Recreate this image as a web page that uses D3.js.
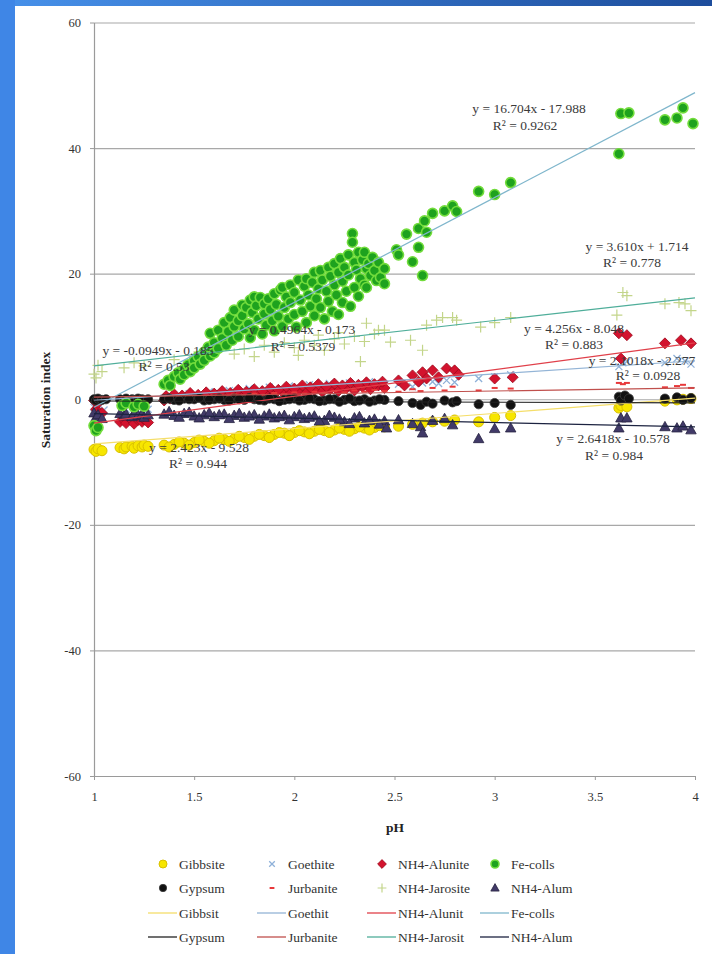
<!DOCTYPE html>
<html><head><meta charset="utf-8">
<script src="https://cdn.jsdelivr.net/npm/d3@7"></script>
<style>
html,body{margin:0;padding:0;background:#fff;}
svg{display:block;}
</style></head><body>
<svg id="chart" width="712" height="954"></svg>
<script>
// ---------------- DATA (pH, saturation index) ----------------
const gibbsite = [[1.0,-8.0],[1.01,-8.3],[1.02,-7.9],[1.04,-8.2],[1.13,-7.7],[1.15,-7.9],[1.16,-7.6],[1.19,-7.5],[1.2,-7.8],[1.22,-7.4],[1.24,-7.6],[1.25,-7.3],[1.27,-7.5],
 [1.35,-7.3],[1.4,-7.2],[1.45,-7.0],[1.5,-6.9],[1.55,-6.7],[1.6,-6.6],[1.65,-6.4],[1.7,-6.3],[1.75,-6.1],[1.8,-5.9],[1.85,-5.8],[1.9,-5.6],[1.95,-5.4],[2.0,-5.3],[2.05,-5.2],[2.1,-5.1],[2.15,-5.0],[2.2,-4.9],[2.25,-4.8],[2.3,-4.7],[2.35,-4.6],[2.4,-4.5],[2.45,-4.4],
 [1.375,-7.6],[1.425,-6.8],[1.475,-7.3],[1.525,-6.5],[1.575,-7.0],[1.625,-6.2],[1.675,-6.7],[1.725,-5.9],[1.775,-6.4],[1.825,-5.6],[1.875,-6.1],[1.925,-5.3],[1.975,-5.8],[2.025,-5.0],[2.075,-5.5],[2.125,-4.8],[2.175,-5.3],[2.225,-4.6],[2.275,-5.1],[2.325,-4.4],[2.375,-4.9],[2.425,-4.2],
 [2.52,-4.3],[2.59,-4.0],[2.64,-3.8],[2.69,-3.6],[2.75,-3.5],[2.8,-3.3],[2.92,-3.6],[3.0,-2.9],[3.08,-2.6],[3.62,-1.4],[3.63,-1.0],[3.66,-1.2],[3.85,-0.3],[3.91,-0.1],[3.94,0.0],[3.98,0.1]];
const goethite = [[1.0,-1.3],[1.01,-1.9],[1.02,-1.5],[1.05,-1.7],[1.14,-1.2],[1.16,-1.6],[1.2,-1.4],[1.22,-1.8],[1.25,-1.3],[1.27,-1.6],
 [1.35,0.2],[1.4,0.4],[1.45,0.5],[1.5,0.7],[1.55,0.6],[1.6,0.9],[1.65,0.8],[1.7,1.1],[1.75,1.0],[1.8,1.3],[1.85,1.2],[1.9,1.5],[1.95,1.4],[2.0,1.7],[2.05,1.5],[2.1,1.8],[2.15,1.6],[2.2,1.9],[2.25,1.8],[2.3,2.1],[2.35,2.4],[2.4,2.0],[2.45,2.2],
 [1.375,0.6],[1.475,0.9],[1.575,1.2],[1.675,1.4],[1.775,1.7],[1.875,1.9],[1.975,2.1],[2.075,2.3],[2.175,2.5],[2.275,2.6],[2.375,2.8],
 [2.52,2.4],[2.59,2.0],[2.64,2.6],[2.69,2.8],[2.72,2.5],[2.76,3.0],[2.8,2.7],[2.92,3.3],[3.0,3.6],[3.08,3.9],[3.62,5.2],[3.64,5.8],[3.66,6.0],[3.85,5.8],[3.91,6.5],[3.95,6.1],[3.98,5.6]];
const nh4Alunite = [[1.0,-0.2],[1.01,-1.6],[1.02,-0.6],[1.04,-2.2],[1.13,-3.6],[1.15,-3.3],[1.16,-3.8],[1.19,-3.4],[1.2,-3.9],[1.22,-3.3],[1.24,-3.6],[1.25,-3.2],[1.27,-3.7],
 [1.35,-0.2],[1.38,0.1],[1.42,0.0],[1.46,0.3],[1.5,0.2],[1.54,0.4],[1.58,0.3],[1.62,0.6],[1.66,0.4],[1.7,0.7],[1.74,0.5],[1.78,0.9],[1.82,0.7],[1.86,1.0],[1.9,0.8],[1.94,1.2],[1.98,0.9],[2.02,1.3],[2.06,1.0],[2.1,1.5],[2.14,1.2],[2.18,1.6],[2.22,1.3],[2.26,1.8],[2.3,1.4],[2.34,2.0],[2.38,1.6],[2.42,2.2],[2.45,1.8],
 [1.36,0.5],[1.4,0.8],[1.44,0.6],[1.48,1.0],[1.52,0.7],[1.56,1.1],[1.6,0.9],[1.64,1.3],[1.68,1.0],[1.72,1.5],[1.76,1.2],[1.8,1.6],[1.84,1.3],[1.88,1.8],[1.92,1.5],[1.96,2.0],[2.0,1.7],[2.04,2.2],[2.08,1.9],[2.12,2.4],[2.16,2.0],[2.2,2.5],[2.24,2.2],[2.28,2.6],[2.32,2.3],[2.36,2.7],[2.4,2.4],[2.44,2.8],
 [2.52,3.0],[2.55,2.2],[2.59,3.8],[2.62,2.8],[2.64,4.3],[2.66,3.3],[2.69,4.6],[2.72,3.5],[2.76,4.9],[2.8,4.6],[2.82,3.9],[3.0,3.3],[3.09,3.5],[3.62,10.5],[3.63,6.5],[3.66,10.2],[3.85,8.9],[3.93,9.4],[3.98,8.9]];
const feColls = [[1.0,-4.2],[1.01,-5.0],[1.02,-4.5],[1.14,-1.0],[1.16,-0.6],[1.2,-1.2],[1.22,-0.8],[1.25,-1.1],
 [1.35,2.4],[1.37,3.0],[1.38,2.2],[1.4,3.6],[1.42,4.2],[1.43,3.2],[1.45,4.8],[1.45,3.9],[1.47,5.5],[1.48,4.4],[1.5,6.1],[1.5,5.0],[1.52,6.8],[1.53,5.6],[1.55,7.5],[1.55,6.2],[1.57,8.3],[1.58,6.9],[1.58,10.5],[1.6,9.0],[1.6,7.4],[1.62,11.0],[1.62,8.1],
 [1.64,9.7],[1.65,12.2],[1.66,8.6],[1.67,10.8],[1.68,13.0],[1.69,9.4],[1.7,11.6],[1.7,14.2],[1.72,12.5],[1.72,10.0],[1.74,15.0],[1.74,13.3],[1.75,11.2],[1.76,14.6],[1.77,12.0],[1.78,15.8],[1.78,9.8],[1.79,13.8],[1.8,16.3],[1.8,11.0],[1.81,14.9],[1.82,12.8],[1.83,16.2],[1.84,10.4],[1.85,15.2],[1.85,13.6],[1.86,11.8],[1.87,16.0],[1.88,14.3],[1.89,12.5],[1.9,16.8],[1.9,10.9],[1.91,15.1],[1.92,13.2],[1.93,17.4],[1.94,17.8],[1.94,11.6],[1.95,14.6],[1.96,16.3],[1.97,12.8],[1.98,18.2],[1.98,15.4],[2.0,13.5],[2.0,17.0],[2.01,11.5],[2.02,19.0],[2.03,15.8],[2.04,14.0],[2.05,18.0],[2.06,19.2],[2.06,12.2],[2.07,16.6],[2.08,14.8],[2.09,18.6],[2.1,20.2],[2.1,13.3],[2.11,16.0],[2.12,17.6],[2.13,20.5],[2.13,14.6],[2.14,19.0],[2.15,12.8],[2.16,17.2],[2.17,21.0],[2.17,15.6],[2.18,19.6],[2.19,14.0],[2.2,18.2],[2.2,21.6],[2.21,16.6],[2.22,20.2],[2.22,13.5],[2.23,22.4],[2.24,18.8],[2.24,15.4],[2.25,21.0],[2.26,17.2],[2.27,23.0],[2.27,19.8],[2.28,14.8],[2.29,26.4],[2.29,25.0],[2.3,21.8],[2.3,17.8],[2.31,20.6],[2.32,23.4],[2.32,16.4],[2.33,19.2],[2.34,22.2],[2.35,23.4],[2.35,18.2],[2.36,17.8],[2.36,20.8],[2.37,21.6],[2.38,19.7],[2.39,22.6],[2.4,20.5],[2.41,18.9],[2.42,21.8],[2.43,19.4],[2.45,20.8],[2.45,18.4],
 [2.51,23.8],[2.52,23.0],[2.56,26.3],[2.59,21.9],[2.62,27.2],[2.62,24.2],[2.64,19.7],[2.65,28.4],[2.66,26.6],[2.69,29.6],[2.75,30.0],[2.79,30.8],[2.81,29.9],[2.92,33.1],[3.0,32.6],[3.08,34.5],
 [3.62,39.1],[3.63,45.5],[3.67,45.6],[3.85,44.5],[3.91,44.8],[3.94,46.4],[3.99,43.9]];
const gypsum = [[1.0,0.0],[1.01,-0.2],[1.02,0.1],[1.04,-0.1],[1.06,0.0],[1.13,0.0],[1.15,-0.2],[1.16,0.1],[1.19,0.0],[1.2,-0.1],[1.22,0.1],[1.24,0.0],[1.25,-0.2],[1.27,0.0],
 [1.35,0.0],[1.4,-0.1],[1.45,0.1],[1.5,0.0],[1.55,-0.2],[1.6,0.0],[1.65,-0.1],[1.7,0.1],[1.75,-0.1],[1.8,0.0],[1.85,-0.2],[1.9,0.0],[1.95,-0.1],[2.0,0.1],[2.05,-0.1],[2.1,0.0],[2.15,-0.2],[2.2,0.0],[2.25,-0.1],[2.3,-0.3],[2.35,0.0],[2.4,-0.2],[2.45,-0.1],
 [1.375,0.1],[1.425,-0.2],[1.475,0.0],[1.525,0.2],[1.575,-0.1],[1.625,0.1],[1.675,-0.2],[1.725,0.0],[1.775,0.2],[1.825,-0.1],[1.875,0.1],[1.925,-0.3],[1.975,0.0],[2.025,-0.2],[2.075,0.1],[2.125,-0.3],[2.175,0.0],[2.225,-0.4],[2.275,0.1],[2.325,-0.2],[2.375,-0.4],[2.425,0.0],
 [2.52,-0.3],[2.59,-0.6],[2.63,-0.9],[2.66,-0.4],[2.69,-0.7],[2.75,-0.2],[2.79,-0.5],[2.81,-0.3],[2.92,-0.8],[3.0,-0.6],[3.08,-0.9],[3.62,0.4],[3.63,-0.2],[3.65,0.6],[3.67,0.1],[3.85,0.1],[3.91,0.3],[3.94,-0.1],[3.98,0.2]];
const jurbanite = [[1.0,-0.1],[1.02,0.2],[1.05,-0.3],[1.15,0.1],[1.2,0.0],[1.25,0.2],
 [1.35,0.2],[1.4,0.4],[1.45,0.3],[1.5,0.5],[1.55,0.4],[1.6,0.6],[1.65,0.5],[1.7,0.8],[1.75,0.6],[1.8,0.9],[1.85,0.7],[1.9,1.0],[1.95,0.8],[2.0,1.1],[2.05,0.9],[2.1,1.2],[2.15,1.0],[2.2,1.3],[2.25,1.1],[2.3,1.4],[2.35,1.2],[2.4,1.5],[2.45,1.3],
 [2.52,1.2],[2.59,1.6],[2.63,1.3],[2.69,1.8],[2.75,1.4],[2.79,2.0],[2.92,1.4],[3.0,1.8],[3.08,1.7],[3.62,2.6],[3.64,2.4],[3.66,2.6],[3.85,1.9],[3.91,2.1],[3.94,2.3],[3.98,1.8]];
const nh4Jarosite = [[1.0,4.0],[1.01,3.4],[1.02,5.4],[1.04,4.4],[1.15,5.0],[1.2,5.8],[1.25,5.3],[1.4,6.3],[1.5,6.8],[1.55,6.0],[1.7,7.2],[1.75,8.0],[1.8,6.8],[1.85,8.6],[1.9,7.5],[1.95,9.0],[2.0,8.2],[2.02,7.0],[2.05,9.4],[2.1,8.6],[2.12,10.2],[2.15,7.8],[2.2,9.6],[2.22,10.6],[2.25,8.8],[2.3,10.0],[2.33,6.0],[2.35,9.2],[2.36,12.1],[2.4,10.4],[2.42,11.0],[2.45,11.0],[2.48,9.1],[2.58,9.4],[2.64,7.8],[2.66,11.8],[2.71,12.6],[2.74,13.0],[2.79,13.0],[2.81,12.6],[2.93,11.5],[3.0,12.2],[3.08,13.0],[3.61,13.4],[3.64,17.0],[3.66,16.5],[3.85,15.2],[3.92,15.4],[3.95,15.2],[3.98,14.1]];
const nh4Alum = [[1.0,-2.2],[1.01,-2.9],[1.02,-2.5],[1.04,-3.1],[1.13,-2.3],[1.15,-2.7],[1.16,-2.4],[1.19,-2.8],[1.2,-2.3],[1.22,-2.6],[1.24,-2.4],[1.25,-2.9],[1.27,-2.5],
 [1.35,-2.4],[1.4,-2.6],[1.45,-2.3],[1.5,-2.7],[1.55,-2.5],[1.6,-2.8],[1.65,-2.4],[1.7,-2.6],[1.75,-2.9],[1.8,-2.5],[1.85,-2.7],[1.9,-3.0],[1.95,-2.6],[2.0,-2.8],[2.05,-3.1],[2.1,-2.7],[2.15,-3.4],[2.2,-2.9],[2.25,-3.6],[2.3,-3.0],[2.35,-3.8],[2.4,-3.2],[2.45,-3.5],
 [1.375,-2.0],[1.425,-2.9],[1.475,-2.1],[1.525,-3.0],[1.575,-2.2],[1.625,-2.5],[1.675,-3.1],[1.725,-2.3],[1.775,-2.7],[1.825,-3.2],[1.875,-2.4],[1.925,-2.8],[1.975,-3.3],[2.025,-2.5],[2.075,-2.9],[2.125,-3.5],[2.175,-2.6],[2.225,-3.2],[2.275,-3.9],[2.325,-2.8],[2.375,-3.4],[2.425,-4.0],
 [2.46,-4.6],[2.52,-3.3],[2.59,-3.9],[2.63,-4.4],[2.64,-5.4],[2.69,-3.4],[2.75,-3.1],[2.79,-4.1],[2.92,-6.3],[3.0,-4.7],[3.08,-4.6],[3.62,-4.6],[3.63,-3.0],[3.66,-3.0],[3.85,-4.4],[3.91,-4.6],[3.94,-4.3],[3.98,-4.9]];

const seriesNames = ["Gibbsite","Goethite","NH4-Alunite","Fe-colls","Gypsum","Jurbanite","NH4-Jarosite","NH4-Alum"];
const trendNames  = ["Gibbsit","Goethit","NH4-Alunit","Fe-colls","Gypsum","Jurbanite","NH4-Jarosit","NH4-Alum"];
const trendSlopes     = [2.423, 2.1018, 4.256, 16.704, -0.0949, 0.4964, 3.610, -0.70];
const trendIntercepts = [-9.528, -2.277, -8.048, -17.988, -0.185, -0.173, 1.714, -1.60];
const equationTexts = [
  ["y = 16.704x - 17.988","R² = 0.9262"],
  ["y = 3.610x + 1.714","R² = 0.778"],
  ["y = 4.256x - 8.048","R² = 0.883"],
  ["y = 2.1018x - 2.277","R² = 0.0928"],
  ["y = 0.4964x - 0.173","R² = 0.5379"],
  ["y = -0.0949x - 0.185","R² = 0.53"],
  ["y = 2.423x - 9.528","R² = 0.944"],
  ["y = 2.6418x - 10.578","R² = 0.984"]
];
const xTicks = [1,1.5,2,2.5,3,3.5,4];
const yTicks = [-60,-40,-20,0,20,40,60];
const xTitle = "pH";
const yTitle = "Saturation index";

// ---------------- LAYOUT / STYLE ----------------
const W = 712, H = 954;
const FONT = "'Liberation Serif','Times New Roman',serif";
const seriesData = [gibbsite, goethite, nh4Alunite, feColls, gypsum, jurbanite, nh4Jarosite, nh4Alum];
const markerStyle = [
  {type:"circle", r:5, fill:"#f7e600", stroke:"#d8c000", sw:1},
  {type:"x", r:3.5, fill:"none", stroke:"#8fb1d9", sw:1.3},
  {type:"diamond", r:5.5, fill:"#d3132e", stroke:"#9a0a1c", sw:0.8},
  {type:"circle", r:5, fill:"#1ea21e", stroke:"#72dc3c", sw:1.6},
  {type:"circle", r:4.6, fill:"#111", stroke:"#3a3a3a", sw:0.8},
  {type:"dash", r:3, fill:"none", stroke:"#e8383a", sw:2},
  {type:"plus", r:5.5, fill:"none", stroke:"#c3d58a", sw:1.2},
  {type:"triangle", r:5.5, fill:"#413a68", stroke:"#262240", sw:0.8}
];
const lineColors = ["#f5de6a","#93b4d6","#e0404a","#7fb6cc","#222222","#c0504d","#4fae9a","#1c2340"];
const drawOrder = [6,1,2,5,0,7,4,3];
const eqPos = [[529,108,525,125],[637,246,632,262],[574,328,574,344],[642,360,648,375],[302,329,303,346],[158,350,164,366],[199,447,198,463],[613,438,614,455]];
const LABEL_FS = 13.5, TICK_FS = 12.5, TITLE_FS = 13.5;

const svg = d3.select("#chart");
const defs = svg.append("defs");
const g1 = defs.append("linearGradient").attr("id","bg").attr("x1",0).attr("x2",1).attr("y1",0).attr("y2",0);
g1.append("stop").attr("offset","0%").attr("stop-color","#4791ea");
g1.append("stop").attr("offset","100%").attr("stop-color","#1d4d9c");
svg.append("rect").attr("width",W).attr("height",H).attr("fill","url(#bg)");
svg.append("rect").attr("x",0).attr("y",0).attr("width",15).attr("height",H).attr("fill","#3f86e6");
svg.append("rect").attr("x",15).attr("y",6).attr("width",W-15).attr("height",H-6).attr("fill","#ffffff");

const x = d3.scaleLinear().domain([1,4]).range([94,695]);
const y = d3.scaleLinear().domain([-60,60]).range([776,22.5]);

// gridlines
svg.append("g").attr("transform","translate(94,0)")
  .call(d3.axisLeft(y).tickValues(yTicks).tickSize(-601).tickFormat(""))
  .call(g=>{g.select(".domain").remove(); g.selectAll("line").attr("stroke","#a8a8a8").attr("stroke-width",1.2);});

// y axis
svg.append("g").attr("transform","translate(94,0)")
  .call(d3.axisLeft(y).tickValues(yTicks).tickSize(4).tickSizeOuter(0).tickPadding(9).tickFormat(d=>String(d)))
  .call(g=>{g.select(".domain").attr("stroke","#9a9a9a").attr("stroke-width",1.2);
            g.selectAll("line").attr("stroke","#9a9a9a");
            g.selectAll("text").attr("font-family",FONT).attr("font-size",TICK_FS).attr("fill","#333");});
// x axis
svg.append("g").attr("transform","translate(0,776)")
  .call(d3.axisBottom(x).tickValues(xTicks).tickSize(4).tickSizeOuter(0).tickPadding(12).tickFormat(d=>String(d)))
  .call(g=>{g.select(".domain").attr("stroke","#9a9a9a").attr("stroke-width",1.2);
            g.selectAll("line").attr("stroke","#9a9a9a");
            g.selectAll("text").attr("font-family",FONT).attr("font-size",TICK_FS).attr("fill","#333");});

svg.append("text").attr("x",395).attr("y",832).attr("text-anchor","middle")
  .attr("font-family",FONT).attr("font-size",TITLE_FS).attr("font-weight","bold").attr("fill","#222").text(xTitle);
svg.append("text").attr("transform","translate(50,400) rotate(-90)").attr("text-anchor","middle")
  .attr("font-family",FONT).attr("font-size",TITLE_FS).attr("font-weight","bold").attr("fill","#222").text(yTitle);

function markerPath(t, s){
  switch(t){
    case "diamond": return `M0,${-s}L${s},0L0,${s}L${-s},0Z`;
    case "triangle": return `M0,${-s}L${s*0.95},${s*0.7}L${-s*0.95},${s*0.7}Z`;
    case "plus": return `M${-s},0H${s}M0,${-s}V${s}`;
    case "x": return `M${-s},${-s}L${s},${s}M${-s},${s}L${s},${-s}`;
    case "dash": return `M${-s},0H${s}`;
  }
}
function drawMarker(sel, st, scale){
  const s = st.r*(scale||1);
  if(st.type==="circle"){
    sel.append("circle").attr("r",s).attr("fill",st.fill).attr("stroke",st.stroke).attr("stroke-width",st.sw);
  } else {
    sel.append("path").attr("d",markerPath(st.type,s)).attr("fill",st.fill).attr("stroke",st.stroke).attr("stroke-width",st.sw);
  }
}

const plot = svg.append("g");
drawOrder.forEach(i=>{
  const st = markerStyle[i];
  const g = plot.append("g").attr("class","series-"+i);
  g.selectAll("g.pt").data(seriesData[i]).enter().append("g").attr("class","pt")
    .attr("transform",d=>`translate(${x(d[0])},${y(d[1])})`)
    .each(function(){ drawMarker(d3.select(this), st); });
});

// trendlines
const lineGen = d3.line().x(d=>x(d[0])).y(d=>y(d[1]));
trendSlopes.forEach((m,i)=>{
  const b = trendIntercepts[i];
  const pts = [1,4].map(v=>[v, m*v+b]);
  svg.append("path").attr("d",lineGen(pts)).attr("fill","none").attr("stroke",lineColors[i]).attr("stroke-width",1.2);
});

// equation labels
equationTexts.forEach((t,i)=>{
  const p = eqPos[i];
  svg.append("text").attr("x",p[0]).attr("y",p[1]).attr("dy","0.35em").attr("text-anchor","middle")
    .attr("font-family",FONT).attr("font-size",LABEL_FS).attr("fill","#3a3a3a").text(t[0]);
  svg.append("text").attr("x",p[2]).attr("y",p[3]).attr("dy","0.35em").attr("text-anchor","middle")
    .attr("font-family",FONT).attr("font-size",LABEL_FS).attr("fill","#3a3a3a").text(t[1]);
});

// legend
const colX = [163,272,382,495];
const rowY = [864,888,913,937];
const legMarkers = [[0,1,2,3],[4,5,6,7]];
const leg = svg.append("g");
legMarkers.forEach((row,r)=>{
  row.forEach((si,c)=>{
    const g = leg.append("g").attr("transform",`translate(${colX[c]},${rowY[r]})`);
    drawMarker(g, markerStyle[si], 0.8);
    leg.append("text").attr("x",colX[c]+16).attr("y",rowY[r]).attr("dy","0.35em")
      .attr("font-family",FONT).attr("font-size",LABEL_FS).attr("fill","#333").text(seriesNames[si]);
    const ry = rowY[r+2];
    leg.append("line").attr("x1",colX[c]-15).attr("x2",colX[c]+14).attr("y1",ry).attr("y2",ry)
      .attr("stroke",lineColors[si]).attr("stroke-width",1.3);
    leg.append("text").attr("x",colX[c]+16).attr("y",ry).attr("dy","0.35em")
      .attr("font-family",FONT).attr("font-size",LABEL_FS).attr("fill","#333").text(trendNames[si]);
  });
});
</script>
</body></html>
